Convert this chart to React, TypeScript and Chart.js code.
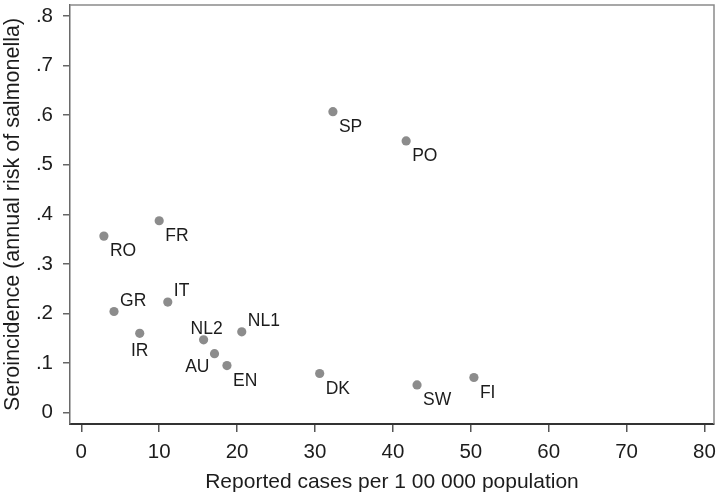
import React, { useEffect, useRef } from "react";
import { Chart, registerables } from "chart.js";

Chart.register(...registerables);

// ---- data ----
const countries = ["RO", "FR", "SP", "PO", "GR", "IT", "IR", "NL2", "NL1", "AU", "EN", "DK", "SW", "FI"];
const reportedCases = [2.9, 10.0, 32.3, 41.7, 4.2, 11.1, 7.5, 15.7, 20.6, 17.1, 18.7, 30.6, 43.1, 50.4];
const seroincidence = [0.356, 0.387, 0.607, 0.548, 0.204, 0.223, 0.16, 0.147, 0.163, 0.119, 0.095, 0.079, 0.056, 0.071];
const labelClock = [4, 4, 4, 4, 1, 1, 6, 12, 1, 8, 4, 4, 4, 4];
const xTicks = [0, 10, 20, 30, 40, 50, 60, 70, 80];
const yTicks = [0, 0.1, 0.2, 0.3, 0.4, 0.5, 0.6, 0.7, 0.8];
const xTitle = "Reported cases per 1 00 000 population";
const yTitle = "Seroincidence (annual risk of salmonella)";

const FONT = "'Liberation Sans', Arial, Helvetica, sans-serif";
const TEXT = "#1c1c1c";

const labelPlugin = {
  id: "pointLabels",
  afterDatasetsDraw(chart: any) {
    const ctx = chart.ctx;
    const meta = chart.getDatasetMeta(0);
    const size = 17.5;
    ctx.save();
    ctx.font = `${size}px ${FONT}`;
    ctx.fillStyle = TEXT;
    ctx.textBaseline = "alphabetic";
    meta.data.forEach((pt: any, i: number) => {
      const c = labelClock[i];
      let dx = 6;
      let dy = 14;
      let align: CanvasTextAlign = "left";
      if (c === 1) {
        dx = 6;
        dy = -12;
      } else if (c === 6) {
        dx = 0;
        dy = 16;
        align = "center";
      } else if (c === 12) {
        dx = 3;
        dy = -12;
        align = "center";
      } else if (c === 8) {
        dx = -5;
        dy = 12;
        align = "right";
      }
      ctx.textAlign = align;
      ctx.fillText(countries[i], pt.x + dx, pt.y + dy + 0.358 * size);
    });
    ctx.restore();
  },
};

const framePlugin = {
  id: "frame",
  afterDraw(chart: any) {
    const { ctx, chartArea } = chart;
    ctx.save();
    ctx.strokeStyle = "#8a8a8a";
    ctx.lineWidth = 1.5;
    ctx.beginPath();
    ctx.moveTo(chartArea.left, chartArea.top);
    ctx.lineTo(chartArea.right, chartArea.top);
    ctx.lineTo(chartArea.right, chartArea.bottom);
    ctx.stroke();
    ctx.restore();
  },
};

export default function App() {
  const ref = useRef<HTMLCanvasElement | null>(null);

  useEffect(() => {
    if (!ref.current) return;
    const points = reportedCases.map((x, i) => ({ x, y: seroincidence[i] }));
    const chart = new Chart(ref.current, {
      type: "scatter",
      data: {
        datasets: [
          {
            label: "countries",
            data: points,
            backgroundColor: "#8c8c8c",
            borderColor: "#8c8c8c",
            borderWidth: 0,
            pointRadius: 4.6,
            pointHoverRadius: 4.6,
          },
        ],
      },
      options: {
        animation: false,
        responsive: false,
        devicePixelRatio: 1,
        layout: { padding: { left: 0, right: 6, top: 5, bottom: 0 } },
        plugins: {
          legend: { display: false },
          tooltip: { enabled: false },
        },
        scales: {
          x: {
            type: "linear",
            min: -1.45,
            max: 81.22,
            afterBuildTicks: (s: any) => {
              s.ticks = xTicks.map((v) => ({ value: v }));
            },
            afterFit: (s: any) => {
              s.height = 75;
              s.paddingLeft = 0;
              s.paddingRight = 0;
            },
            grid: {
              drawOnChartArea: false,
              drawTicks: true,
              tickLength: 8,
              color: "#555555",
              lineWidth: 1.5,
            },
            border: { display: true, color: "#333333", width: 2 },
            ticks: {
              autoSkip: false,
              maxRotation: 0,
              padding: 8,
              color: TEXT,
              font: { family: FONT, size: 20.5 },
              callback: (v: any) => String(v),
            },
            title: {
              display: true,
              text: xTitle,
              color: TEXT,
              font: { family: FONT, size: 21 },
              padding: { top: 0, bottom: 4 },
            },
          },
          y: {
            type: "linear",
            min: -0.0228,
            max: 0.822,
            afterBuildTicks: (s: any) => {
              s.ticks = yTicks.map((v) => ({ value: v }));
            },
            afterFit: (s: any) => {
              s.width = 70;
              s.paddingTop = 0;
              s.paddingBottom = 0;
            },
            grid: {
              drawOnChartArea: false,
              drawTicks: true,
              tickLength: 7,
              color: "#666666",
              lineWidth: 1.5,
            },
            border: { display: true, color: "#6a6a6a", width: 1.5 },
            ticks: {
              autoSkip: false,
              padding: 10,
              color: TEXT,
              font: { family: FONT, size: 20.5 },
              callback: (v: any) => (v === 0 ? "0" : Number(v).toFixed(1).replace(/^0/, "")),
            },
            title: {
              display: true,
              text: yTitle,
              color: TEXT,
              font: { family: FONT, size: 21.5 },
              padding: { top: 0, bottom: 0 },
            },
          },
        },
      },
      plugins: [labelPlugin, framePlugin],
    });
    return () => chart.destroy();
  }, []);

  return (
    <div style={{ position: "fixed", left: 0, top: 0, width: 720, height: 499, background: "#ffffff" }}>
      <canvas ref={ref} width={720} height={499} style={{ width: 720, height: 499, display: "block" }} />
    </div>
  );
}
